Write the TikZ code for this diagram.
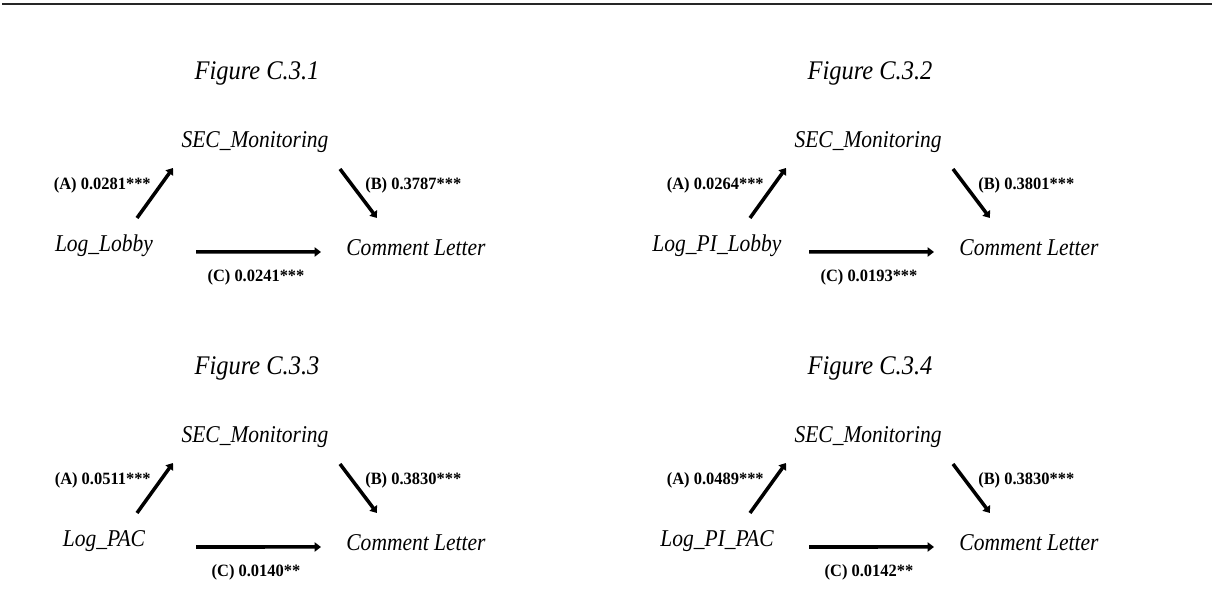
\documentclass[tikz,border=0pt]{standalone}
\usepackage{fontspec}
\setmainfont{Liberation Serif}
\usetikzlibrary{arrows.meta, positioning}

\begin{document}
\begin{tikzpicture}[
    var/.style={font=\fontsize{15.3}{18}\selectfont\itshape, inner sep=0pt, anchor=base, yscale=1.12},
    coef/.style={font=\fontsize{11.7}{14}\selectfont\bfseries, inner sep=0pt, yscale=1.05},
    caption/.style={font=\fontsize{17.4}{20}\selectfont\itshape, inner sep=0pt, anchor=base, yscale=1.1},
    arrow/.style={line width=2.5pt, -{Triangle[length=4.5pt,width=6.5pt]}}
]
\useasboundingbox (0,0) rectangle (30.3,14.875);

% rule along the top of the page
\draw[line width=1.1pt, black!85] (0.05,14.78) -- (30.3,14.78);

% one mediation triangle per panel
\foreach \dx/\dy/\idx/\xvar/\ca/\cb/\cc in {
    0/0/1/Log\_Lobby/0.0281***/0.3787***/0.0241***,
    15.325/0/2/Log\_PI\_Lobby/0.0264***/0.3801***/0.0193***,
    0/-7.375/3/Log\_PAC/0.0511***/0.3830***/0.0140**,
    15.325/-7.375/4/Log\_PI\_PAC/0.0489***/0.3830***/0.0142**}
{
\begin{scope}[shift={(\dx,\dy)}]
\node[caption] (fig\idx) at (6.425,12.875) {Figure C.3.\idx};
\node[var] (sec\idx) at (6.375,11.175) {SEC\_Monitoring};
\node[var] (x\idx) at (2.6,8.575) {\xvar};
\node[var] (y\idx) at (10.4,8.475) {Comment Letter};

\draw[arrow] ([shift={(0.825,0.85)}]x\idx.base) -- ([shift={(-2.05,-0.5)}]sec\idx.base);
\draw[arrow] ([shift={(2.125,-0.525)}]sec\idx.base) -- ([shift={(-0.975,0.95)}]y\idx.base);
\draw[arrow] ([shift={(2.3,0)}]x\idx.base) -- ([shift={(-2.375,0.1)}]y\idx.base);

\node[coef, anchor=base east] (a\idx) at (3.775,10.125) {(A) \ca};
\node[coef, anchor=base west] (b\idx) at (9.125,10.125) {(B) \cb};
\node[coef, anchor=base] (c\idx) at (6.4,7.825) {(C) \cc};
\end{scope}
}

\end{tikzpicture}
\end{document}
